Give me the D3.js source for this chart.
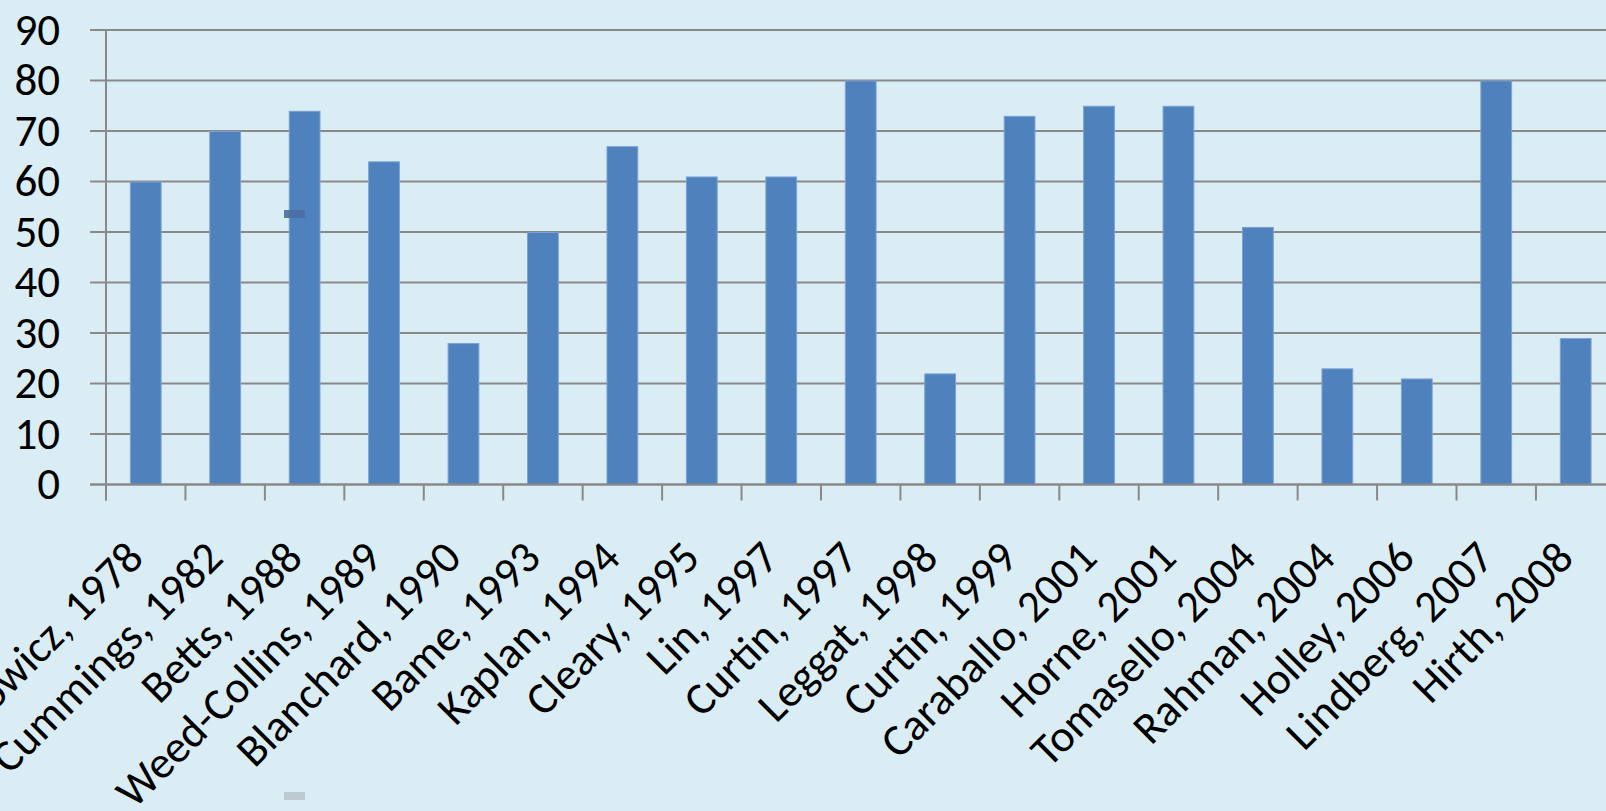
<!DOCTYPE html>
<html>
<head>
<meta charset="utf-8">
<script src="https://cdn.jsdelivr.net/npm/d3@7"></script>
<style>
  html, body { margin: 0; padding: 0; background: #dbedf4; overflow: hidden; }
  svg { display: block; }
  text { font-family: Carlito, Lato, "Open Sans", sans-serif; fill: #000; }
</style>
</head>
<body>
<svg id="chart" width="1606" height="811"></svg>
<script>
// Studies (author, year) and their reported percentages
const studies = [
  "Kasprowicz, 1978", "Cummings, 1982", "Betts, 1988", "Weed-Collins, 1989",
  "Blanchard, 1990", "Bame, 1993", "Kaplan, 1994", "Cleary, 1995", "Lin, 1997",
  "Curtin, 1997", "Leggat, 1998", "Curtin, 1999", "Caraballo, 2001", "Horne, 2001",
  "Tomasello, 2004", "Rahman, 2004", "Holley, 2006", "Lindberg, 2007", "Hirth, 2008"
];
const percentages = [60, 70, 74, 64, 28, 50, 67, 61, 61, 80, 22, 73, 75, 75, 51, 23, 21, 80, 29];
const yTicks = [0, 10, 20, 30, 40, 50, 60, 70, 80, 90];

const svg = d3.select("#chart");
const W = 1606, H = 811;

const plot = { left: 106, right: 1615.4, top: 30, bottom: 484.5 };

const x = d3.scaleBand()
  .domain(studies)
  .range([plot.left, plot.right])
  .paddingInner(0.6)
  .paddingOuter(0.3);

const y = d3.scaleLinear()
  .domain([0, 90])
  .range([plot.bottom, plot.top]);

const gridColor = "#898989";
const labelSize = 45;

// Horizontal gridlines with short outside ticks on the left
svg.append("g")
  .selectAll("line")
  .data(yTicks)
  .join("line")
  .attr("x1", plot.left - 16)
  .attr("x2", W)
  .attr("y1", d => y(d))
  .attr("y2", d => y(d))
  .attr("stroke", gridColor)
  .attr("stroke-width", 2);

// Vertical axis line
svg.append("line")
  .attr("x1", plot.left).attr("x2", plot.left)
  .attr("y1", y(90)).attr("y2", plot.bottom + 16)
  .attr("stroke", gridColor)
  .attr("stroke-width", 2);

// Category boundary ticks below the baseline
const step = x.step();
const boundaries = d3.range(studies.length + 1).map(i => plot.left + i * step);
svg.append("g")
  .selectAll("line")
  .data(boundaries)
  .join("line")
  .attr("x1", d => d).attr("x2", d => d)
  .attr("y1", plot.bottom).attr("y2", plot.bottom + 16)
  .attr("stroke", gridColor)
  .attr("stroke-width", 2);

// Bars
svg.append("g")
  .selectAll("rect")
  .data(studies.map((s, i) => ({ s, v: percentages[i] })))
  .join("rect")
  .attr("x", d => x(d.s) + 0.5)
  .attr("width", x.bandwidth() - 1)
  .attr("y", d => y(d.v) + 0.5)
  .attr("height", d => y(0) - y(d.v) - 0.5)
  .attr("fill", "#4f81bd")
  .attr("stroke", "#7aa3d4")
  .attr("stroke-width", 1);

// Redraw the baseline over the bar bottoms
svg.append("line")
  .attr("x1", plot.left - 16).attr("x2", W)
  .attr("y1", y(0)).attr("y2", y(0))
  .attr("stroke", gridColor)
  .attr("stroke-width", 2);

// Y tick labels
svg.append("g")
  .selectAll("text")
  .data(yTicks)
  .join("text")
  .attr("x", 60)
  .attr("y", d => y(d))
  .attr("dy", "0.33em")
  .attr("text-anchor", "end")
  .attr("font-size", labelSize)
  .text(d => d);

// Rotated category labels
svg.append("g")
  .selectAll("text")
  .data(studies)
  .join("text")
  .attr("text-anchor", "end")
  .attr("font-size", labelSize)
  .attr("transform", d => `translate(${x(d) + x.bandwidth() / 2},560) rotate(-45)`)
  .text(d => d);

// Small selection handles
svg.append("rect").attr("x", 284).attr("y", 210).attr("width", 21).attr("height", 8)
  .attr("fill", "#4a6f9f").attr("opacity", 0.9);
svg.append("rect").attr("x", 284).attr("y", 792).attr("width", 21).attr("height", 8)
  .attr("fill", "#bccbd2");
</script>
</body>
</html>
